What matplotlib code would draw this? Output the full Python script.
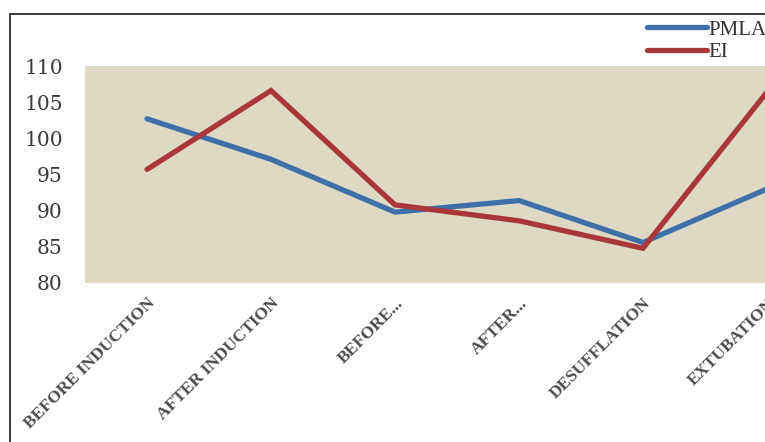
import matplotlib
matplotlib.use("Agg")
import matplotlib.pyplot as plt
from matplotlib.patches import Rectangle

stages = [
    "BEFORE INDUCTION",
    "AFTER INDUCTION",
    "BEFORE...",
    "AFTER...",
    "DESUFFLATION",
    "EXTUBATION",
]
pmla = [102.7, 97.1, 89.8, 91.4, 85.6, 93.0]
ei = [95.7, 106.6, 90.8, 88.6, 84.8, 106.4]

BLUE = "#3f6fa9"
RED = "#a9373a"
PANEL = "#ddd9c4"

fig = plt.figure(figsize=(7.65, 4.42), dpi=100)
fig.patch.set_facecolor("white")

# outer frame, runs off the right and bottom edges
fig.patches.append(Rectangle((10 / 765, -0.2), 1.2, 1.2 - 14 / 442,
                             transform=fig.transFigure, fill=False,
                             edgecolor="#3a3a3a", linewidth=1.4))

# plot area is wider than the figure, so the last category is cut off
left = 85 / 765
width = 6 * 124 / 765
bottom = 1 - 283 / 442
height = (283 - 66) / 442
ax = fig.add_axes([left, bottom, width, height])
ax.set_facecolor(PANEL)

x = list(range(len(stages)))
ax.plot(x, pmla, color=BLUE, linewidth=3.8, solid_capstyle="round",
        solid_joinstyle="miter", label="PMLA")
ax.plot(x, ei, color=RED, linewidth=3.8, solid_capstyle="round",
        solid_joinstyle="miter", label="EI")

ax.set_xlim(-0.5, 5.5)
ax.set_ylim(80, 110)
ax.set_yticks(range(80, 111, 5))
for s in ax.spines.values():
    s.set_visible(False)
ax.tick_params(axis="both", length=0)
ax.tick_params(axis="y", pad=16, labelsize=14.5, labelcolor="#3a3a3a")
for t in ax.get_yticklabels():
    t.set_family("DejaVu Serif")

ax.set_xticks(x)
ax.set_xticklabels(stages, rotation=45, ha="right", va="top",
                   rotation_mode="anchor", family="Liberation Serif",
                   fontsize=12.5, color="#4a4a4a", fontweight="bold")
ax.tick_params(axis="x", pad=9)

leg = fig.legend(loc="upper left", bbox_to_anchor=(647 / 765, 1 - 20 / 442),
                 frameon=False, handlelength=2.9, handletextpad=0.05,
                 labelspacing=0.15, borderaxespad=0, borderpad=0,
                 prop={"family": "Liberation Serif", "size": 15})
for t in leg.get_texts():
    t.set_color("#333333")

fig.savefig("out.png", dpi=100)
